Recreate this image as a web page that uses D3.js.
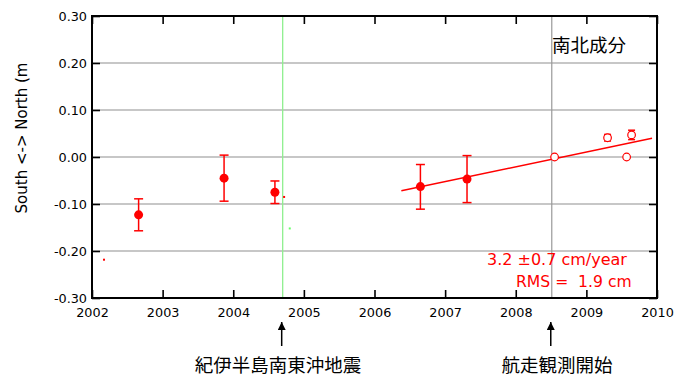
<!DOCTYPE html>
<html>
<head>
<meta charset="utf-8">
<script src="https://cdn.jsdelivr.net/npm/d3@7"></script>
<style>
  body { margin: 0; background: #fff; }
  text { font-family: "DejaVu Sans", sans-serif; }
  .jp { font-family: "Noto Sans CJK JP", sans-serif; }
</style>
</head>
<body>
<script>
// values
var yTicks = [-0.30, -0.20, -0.10, 0.00, 0.10, 0.20, 0.30];
var xTicks = [2002, 2003, 2004, 2005, 2006, 2007, 2008, 2009, 2010];
// [year, value, err low, err high]
var filled = [
  [2002.66, -0.123, -0.157, -0.089],
  [2003.87, -0.045, -0.094, 0.004],
  [2004.59, -0.075, -0.099, -0.051],
  [2006.65, -0.063, -0.111, -0.016],
  [2007.31, -0.047, -0.097, 0.003]
];
var open = [
  [2008.55, 0.000, null, null],
  [2009.30, 0.041, 0.034, 0.048],
  [2009.57, 0.000, null, null],
  [2009.64, 0.047, 0.037, 0.057]
];
var fitLine = [[2006.38, -0.072], [2009.93, 0.040]];
var strays = [[2002.17, -0.2185, "red"], [2004.72, -0.085, "red"], [2004.80, -0.152, "#6f6"]];
var quakeYear = 2004.70;
var cruiseYear = 2008.51;

var w = 697, h = 379;
var pL = 92, pR = 657, pT = 16, pB = 298;

var svg = d3.select("body").append("svg").attr("width", w).attr("height", h);
var x = d3.scaleLinear().domain([2002, 2010]).range([pL, pR]);
var y = d3.scaleLinear().domain([-0.3, 0.3]).range([pB, pT]);

// grid
svg.selectAll(".grid").data(yTicks.slice(1, -1)).enter().append("line")
  .attr("x1", pL).attr("x2", pR)
  .attr("y1", function(d) { return y(d); }).attr("y2", function(d) { return y(d); })
  .attr("stroke", "#b4b4b4").attr("stroke-width", 1.5);

// vertical markers
svg.append("line").attr("x1", x(cruiseYear)).attr("x2", x(cruiseYear))
  .attr("y1", pT).attr("y2", pB).attr("stroke", "#999").attr("stroke-width", 1.2);
svg.append("line").attr("x1", x(quakeYear)).attr("x2", x(quakeYear))
  .attr("y1", pT).attr("y2", pB).attr("stroke", "#8fef8f").attr("stroke-width", 1.3);

// axes, ticks inward
var tl = 8;
svg.append("g").attr("transform", "translate(0," + pB + ")")
  .call(d3.axisBottom(x).tickValues(xTicks).tickFormat(d3.format("d")).tickSize(-tl).tickPadding(10))
  .call(function(g) { g.select(".domain").remove(); });
svg.append("g").attr("transform", "translate(0," + pT + ")")
  .call(d3.axisTop(x).tickValues(xTicks).tickFormat("").tickSize(-tl))
  .call(function(g) { g.select(".domain").remove(); });
svg.append("g").attr("transform", "translate(" + pL + ",0)")
  .call(d3.axisLeft(y).tickValues(yTicks).tickFormat(d3.format(".2f")).tickSize(-tl).tickPadding(5))
  .call(function(g) { g.select(".domain").remove(); });
svg.append("g").attr("transform", "translate(" + pR + ",0)")
  .call(d3.axisRight(y).tickValues(yTicks).tickFormat("").tickSize(-tl))
  .call(function(g) { g.select(".domain").remove(); });
svg.selectAll(".tick line").attr("stroke", "#000").attr("stroke-width", 1.6);
svg.selectAll(".tick text").attr("font-size", 12.8).attr("fill", "#000")
  .attr("font-family", "DejaVu Sans, sans-serif")
  .text(function() { return this.textContent.replace("−", "-"); });

svg.append("rect").attr("x", pL).attr("y", pT)
  .attr("width", pR - pL).attr("height", pB - pT)
  .attr("fill", "none").attr("stroke", "#000").attr("stroke-width", 2);

// fit line
svg.append("line")
  .attr("x1", x(fitLine[0][0])).attr("y1", y(fitLine[0][1]))
  .attr("x2", x(fitLine[1][0])).attr("y2", y(fitLine[1][1]))
  .attr("stroke", "red").attr("stroke-width", 1.5);

function errBars(data, cap) {
  var g = svg.append("g").attr("stroke", "red").attr("stroke-width", 1.5);
  var d2 = data.filter(function(d) { return d[2] !== null; });
  g.selectAll(".v").data(d2).enter().append("line")
    .attr("x1", function(d) { return x(d[0]); }).attr("x2", function(d) { return x(d[0]); })
    .attr("y1", function(d) { return y(d[2]); }).attr("y2", function(d) { return y(d[3]); });
  [2, 3].forEach(function(k) {
    g.selectAll(".c" + k).data(d2).enter().append("line")
      .attr("x1", function(d) { return x(d[0]) - cap; }).attr("x2", function(d) { return x(d[0]) + cap; })
      .attr("y1", function(d) { return y(d[k]); }).attr("y2", function(d) { return y(d[k]); });
  });
}
errBars(filled, 4.5);
errBars(open, 3.5);

svg.selectAll(".filled").data(filled).enter().append("circle")
  .attr("cx", function(d) { return x(d[0]); }).attr("cy", function(d) { return y(d[1]); })
  .attr("r", 4.5).attr("fill", "red");
svg.selectAll(".open").data(open).enter().append("circle")
  .attr("cx", function(d) { return x(d[0]); }).attr("cy", function(d) { return y(d[1]); })
  .attr("r", 3.8).attr("fill", "#fff").attr("stroke", "red").attr("stroke-width", 1.2);

svg.selectAll(".stray").data(strays).enter().append("rect")
  .attr("x", function(d) { return x(d[0]) - 1; }).attr("y", function(d) { return y(d[1]) - 1; })
  .attr("width", 2).attr("height", 2).attr("fill", function(d) { return d[2]; });

// labels
svg.append("text").attr("transform", "translate(27,138) rotate(-90)")
  .attr("text-anchor", "middle").attr("font-size", 15).text("South <-> North (m");

svg.append("text").attr("class", "jp").attr("x", 552).attr("y", 52)
  .attr("font-size", 18.5).text("南北成分");

svg.append("text").attr("x", 487).attr("y", 265).attr("font-size", 16)
  .attr("fill", "red").attr("xml:space", "preserve").text("3.2 ±0.7 cm/year");
svg.append("text").attr("x", 516).attr("y", 287).attr("font-size", 15.6)
  .attr("fill", "red").attr("xml:space", "preserve").text("RMS =  1.9 cm");

// annotations with arrows
svg.append("defs").append("marker").attr("id", "ah")
  .attr("viewBox", "0 0 10 10").attr("refX", 10).attr("refY", 5)
  .attr("markerWidth", 9).attr("markerHeight", 8).attr("markerUnits", "userSpaceOnUse")
  .attr("orient", "auto")
  .append("path").attr("d", "M0,0 L10,5 L0,10 z").attr("fill", "#000");

var notes = [[quakeYear, "紀伊半島南東沖地震", 278], [cruiseYear, "航走観測開始", 557]];
notes.forEach(function(n) {
  var ax = x(n[0]) - 1;
  svg.append("line").attr("x1", ax).attr("x2", ax).attr("y1", 346).attr("y2", 322)
    .attr("stroke", "#000").attr("stroke-width", 1.5).attr("marker-end", "url(#ah)");
  svg.append("text").attr("class", "jp").attr("x", n[2]).attr("y", 372)
    .attr("text-anchor", "middle").attr("font-size", 18.5).text(n[1]);
});
</script>
</body>
</html>
